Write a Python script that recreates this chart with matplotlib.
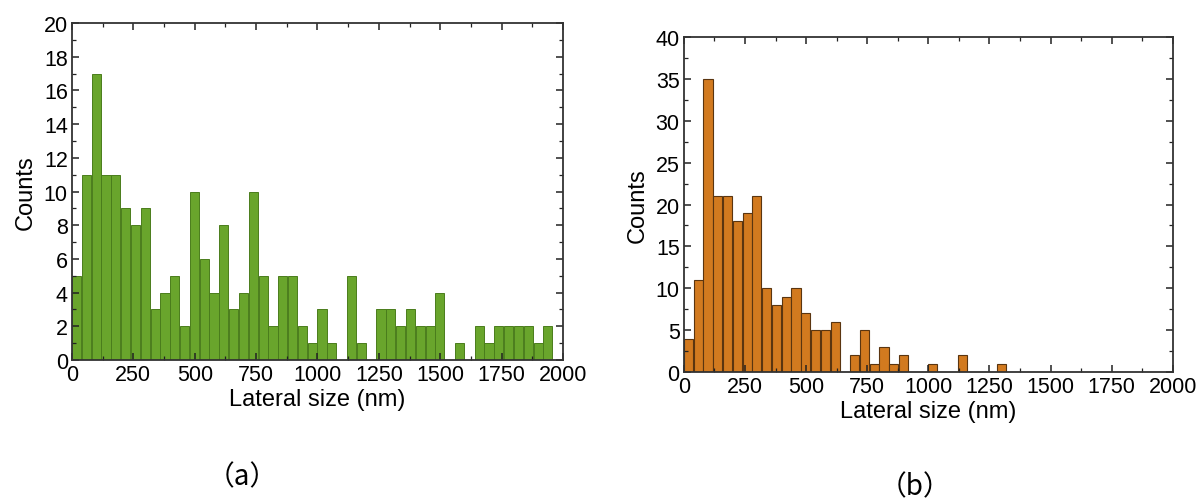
import numpy as np
import matplotlib.pyplot as plt
from matplotlib.ticker import MultipleLocator

plt.rcParams['font.family'] = ['Liberation Sans', 'DejaVu Sans']

# Histogram data: 40 nm bins from 0 to 2000 nm
bin_width = 40
bin_left = np.arange(0, 2000, bin_width)

counts_a = [5, 11, 17, 11, 11, 9, 8, 9, 3, 4,
            5, 2, 10, 6, 4, 8, 3, 4, 10, 5,
            2, 5, 5, 2, 1, 3, 1, 0, 5, 1,
            0, 3, 3, 2, 3, 2, 2, 4, 0, 1,
            0, 2, 1, 2, 2, 2, 2, 1, 2, 0]

counts_b = [4, 11, 35, 21, 21, 18, 19, 21, 10, 8,
            9, 10, 7, 5, 5, 6, 0, 2, 5, 1,
            3, 1, 2, 0, 0, 1, 0, 0, 2, 0,
            0, 0, 1, 0, 0, 0, 0, 0, 0, 0,
            0, 0, 0, 0, 0, 0, 0, 0, 0, 0]

x_ticks = [0, 250, 500, 750, 1000, 1250, 1500, 1750, 2000]

fig = plt.figure(figsize=(12.04, 5.02), dpi=100)
ax1 = fig.add_axes([0.0598, 0.281, 0.4078, 0.671])
ax2 = fig.add_axes([0.568, 0.257, 0.4061, 0.667])


def style_axis(ax, ymax, ymajor):
    ax.set_xlim(0, 2000)
    ax.set_ylim(0, ymax)
    ax.set_xticks(x_ticks)
    ax.xaxis.set_minor_locator(MultipleLocator(125))
    ax.yaxis.set_major_locator(MultipleLocator(ymajor))
    ax.yaxis.set_minor_locator(MultipleLocator(ymajor / 2))
    ax.tick_params(which='both', direction='in', top=True, right=True,
                   color='#222222', labelsize=15.5, pad=3)
    ax.tick_params(which='major', length=5, width=1.1)
    ax.tick_params(which='minor', length=3, width=0.9)
    for s in ax.spines.values():
        s.set_linewidth(1.3)
        s.set_color('#333333')
    ax.set_xlabel('Lateral size (nm)', fontsize=17, labelpad=2)
    ax.set_ylabel('Counts', fontsize=17, labelpad=5)


ax1.bar(bin_left, counts_a, width=bin_width * 0.93, align='edge',
        color='#69a52c', edgecolor='#4a7d1c', linewidth=0.7)
style_axis(ax1, 20, 2)

ax2.bar(bin_left, counts_b, width=bin_width * 0.93, align='edge',
        color='#d27a1f', edgecolor='#5a3510', linewidth=0.8)
style_axis(ax2, 40, 5)

fig.text(0.201, 0.05, '（a）', fontsize=20, ha='center', va='center',
         family=['Noto Sans CJK SC', 'DejaVu Sans'])
fig.text(0.760, 0.03, '（b）', fontsize=20, ha='center', va='center',
         family=['Noto Sans CJK SC', 'DejaVu Sans'])

fig.savefig('out.png', dpi=100)
